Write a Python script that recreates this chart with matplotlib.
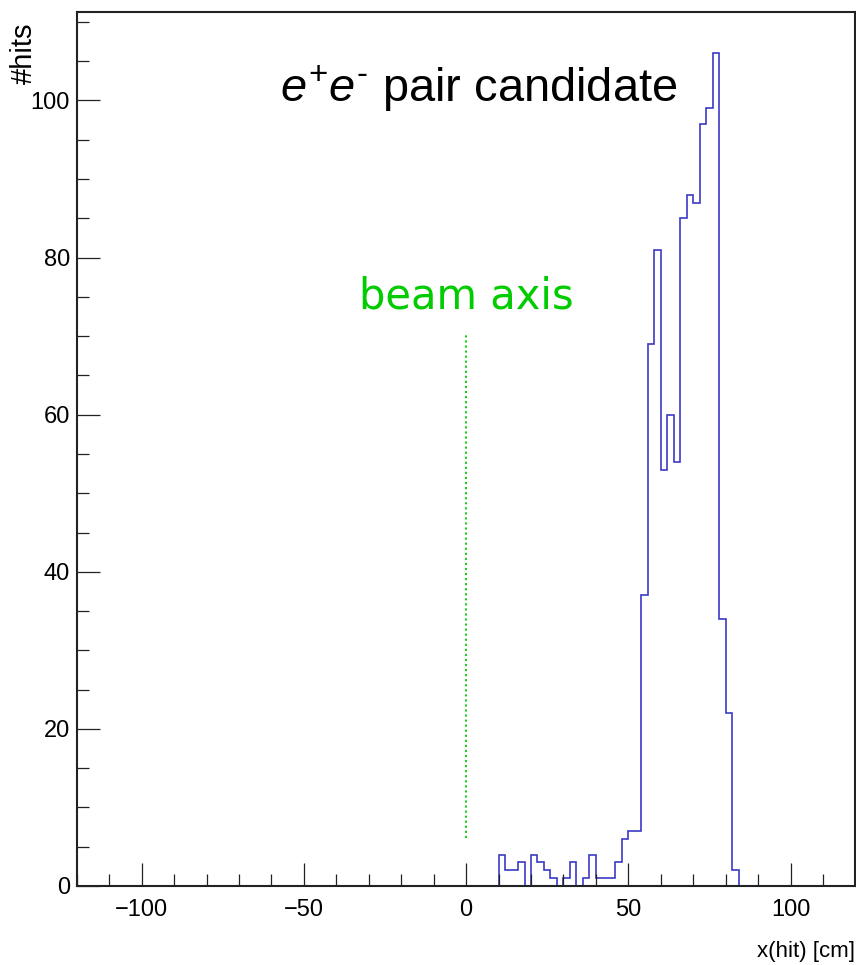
import numpy as np
import matplotlib
matplotlib.use("Agg")
import matplotlib.pyplot as plt
from matplotlib.ticker import MultipleLocator

# histogram: 2 cm bins from -120 to 120, only non-empty region listed
bin_width = 2
x_min, x_max = -120, 120
filled_from = 10   # lower edge of first listed bin
counts_filled = [4, 2, 2, 3, 0, 4, 3, 2, 1, 0,
                 1, 3, 0, 1, 4, 1, 1, 1, 3, 6,
                 7, 7, 37, 69, 81, 53, 60, 54, 85, 88,
                 87, 97, 99, 106, 34, 22, 2]

beam_x = 0
beam_top, beam_bottom = 70.4, 6.1

edges = np.arange(x_min, x_max + bin_width, bin_width)
counts = np.zeros(len(edges) - 1)
start = (filled_from - x_min) // bin_width
counts[start:start + len(counts_filled)] = counts_filled

plt.rcParams['font.family'] = ['Liberation Sans', 'DejaVu Sans']
plt.rcParams['mathtext.fontset'] = 'custom'
plt.rcParams['mathtext.it'] = 'Liberation Sans:italic'
plt.rcParams['mathtext.rm'] = 'Liberation Sans'

W, H = 856, 965
fig = plt.figure(figsize=(W / 100, H / 100), dpi=100)
ax = fig.add_axes([76.7 / W, 79 / H, (855.5 - 76.7) / W, (886 - 11.7) / H])

ax.stairs(counts, edges, color='#3b3bc6', linewidth=1.2, baseline=0)

ax.set_xlim(x_min, x_max)
ax.set_ylim(0, 1.05 * max(counts_filled))

ax.xaxis.set_major_locator(MultipleLocator(50))
ax.xaxis.set_minor_locator(MultipleLocator(10))
ax.yaxis.set_major_locator(MultipleLocator(20))
ax.yaxis.set_minor_locator(MultipleLocator(5))
ax.tick_params(which='both', direction='in', top=False, right=False,
               width=0.9, color='#222222', labelsize=17)
ax.tick_params(axis='x', which='major', length=16.5, pad=9)
ax.tick_params(axis='y', which='major', length=16.5, pad=5)
ax.tick_params(which='minor', length=8.5)
for s in ax.spines.values():
    s.set_linewidth(1.5)
    s.set_color('#222222')

# beam axis marker
ax.plot([beam_x, beam_x], [beam_bottom, beam_top], color='#00cc00',
        linestyle=(0, (1.2, 1.6)), linewidth=1.3)
ax.text(beam_x, 73.5, 'beam axis', color='#00cc00', fontsize=30,
        family=['DejaVu Sans'], ha='center', va='baseline')

ax.text(-57.4, 99.8, r'$e^{+}e^{\text{-}}$ pair candidate', fontsize=33.8,
        ha='left', va='baseline')

fig.text(24 / W, 1 - 22 / H, '#hits', rotation=90, fontsize=21,
         ha='center', va='top')
fig.text(855 / W, 1 - 957 / H, 'x(hit) [cm]', fontsize=16,
         ha='right', va='baseline')

fig.savefig('out.png', dpi=100)
